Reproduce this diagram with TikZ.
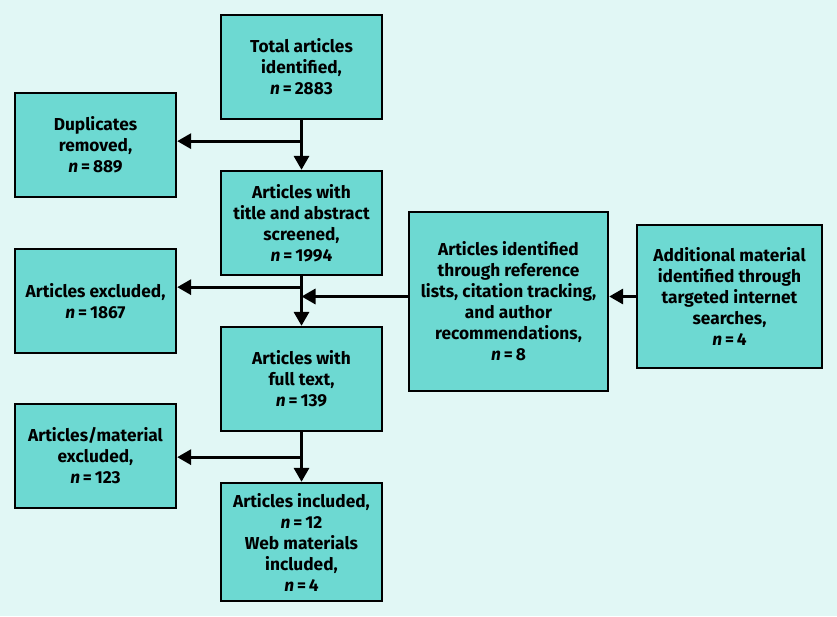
\documentclass[tikz,border=0pt]{standalone}
\usepackage{fontspec}
\setmainfont{Fira Sans}
\usetikzlibrary{arrows.meta,calc}
\definecolor{bgc}{HTML}{E1F7F5}
\definecolor{boxc}{HTML}{6DD9D2}
\tikzset{
  fbox/.style={draw=black, line width=2.3pt, fill=boxc, align=center, inner sep=2pt,
    font=\fontsize{17.3}{21}\selectfont\bfseries, text=black},
  conn/.style={line width=3.2pt, draw=black},
  arr/.style={conn, -{Triangle[length=14pt,width=15pt]}}
}
\begin{document}
\begin{tikzpicture}[x=1pt,y=1pt]
\fill[bgc] (0,0) rectangle (837,616);
\useasboundingbox (0,0) rectangle (837,616);
\node[fbox, minimum width=161pt, minimum height=104pt] (tot) at (301.5,549) {Total articles\\identified,\\\textit{n}\,=\,2883};
\node[fbox, minimum width=161pt, minimum height=104pt] (dup) at (95.5,471) {Duplicates\\removed,\\\textit{n}\,=\,889};
\node[fbox, minimum width=161pt, minimum height=104pt] (scr) at (301.5,393) {Articles with\\title and abstract\\screened,\\\textit{n}\,=\,1994};
\node[fbox, minimum width=161pt, minimum height=104pt] (exc) at (95.5,315) {Articles excluded,\\\textit{n}\,=\,1867};
\node[fbox, minimum width=161pt, minimum height=104pt] (ful) at (301.5,237) {Articles with\\full text,\\\textit{n}\,=\,139};
\node[fbox, minimum width=161pt, minimum height=104pt] (exm) at (95.5,160) {Articles/material\\excluded,\\\textit{n}\,=\,123};
\node[fbox, minimum width=161pt, minimum height=118pt] (inc) at (301.5,74) {Articles included,\\\textit{n}\,=\,12\\Web materials\\included,\\\textit{n}\,=\,4};
\node[fbox, minimum width=199pt, minimum height=179pt] (ref) at (508.5,314.5) {Articles identified\\through reference\\lists, citation tracking,\\and author\\recommendations,\\\textit{n}\,=\,8};
\node[fbox, minimum width=185pt, minimum height=143pt] (add) at (729.5,319.5) {Additional material\\identified through\\targeted internet\\searches,\\\textit{n}\,=\,4};
% connectors
\coordinate (b1) at ($(tot.south)+(0,-21)$);
\coordinate (b2) at ($(scr.south)+(0,-11)$);
\coordinate (b3) at ($(ful.south)+(0,-25)$);
\draw[arr] (tot.south) -- (scr.north);
\draw[arr] (b1) -- (b1 -| dup.east);
\draw[arr] (scr.south) -- (ful.north);
\draw[arr] (b2) -- (b2 -| exc.east);
\draw[arr] (ful.south) -- (inc.north);
\draw[arr] (b3) -- (b3 -| exm.east);
\draw[arr] (add.west) -- (add.west -| ref.east);
\draw[arr] (ref.west |- add.west) -- (add.west -| scr.south);
\end{tikzpicture}
\end{document}
